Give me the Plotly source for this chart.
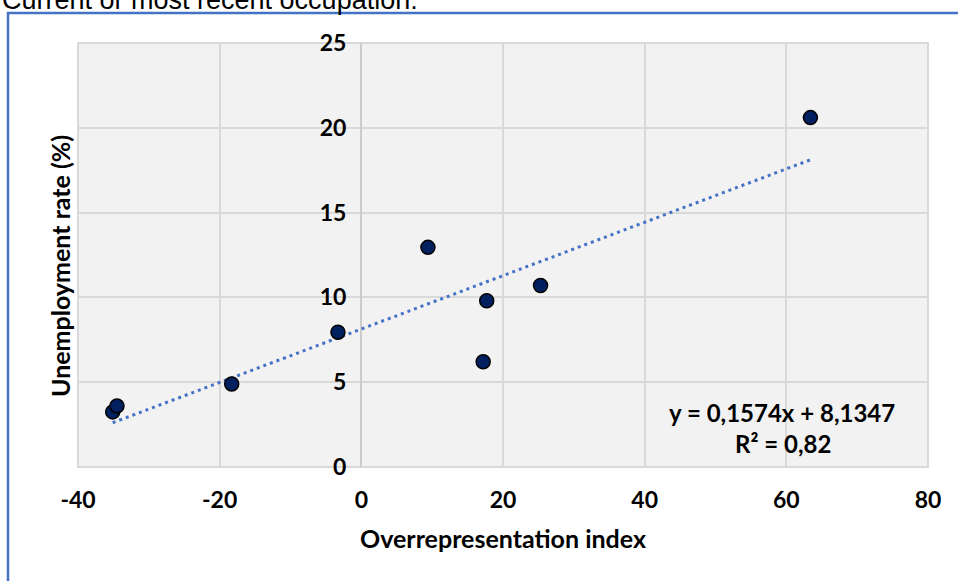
import plotly.graph_objects as go

# Data
overrep_index = [-35.1, -34.5, -18.3, -3.3, 9.4, 17.2, 17.7, 25.3, 63.4]
unemp_rate = [3.25, 3.6, 4.9, 7.95, 12.95, 6.2, 9.8, 10.7, 20.6]

trend_slope = 0.1574
trend_intercept = 8.1347
r_squared = 0.82

x_ticks = [-40, -20, 0, 20, 40, 60, 80]
y_ticks = [0, 5, 10, 15, 20, 25]

W, H = 958, 581
L, R, T, B = 78, 30, 43, 114
pw, ph = W - L - R, H - T - B

def px_x(p):
    return (p - L) / pw

def px_y(p):
    return (H - B - p) / ph

tick_font = dict(family="Lato, Liberation Sans, sans-serif", size=23, color="#000000", weight="bold")
title_font = dict(family="Lato, Liberation Sans, sans-serif", size=25, color="#000000", weight="bold")
note_font = dict(family="Lato, Liberation Sans, sans-serif", size=24, color="#000000", weight="bold")

x_min, x_max = min(overrep_index), max(overrep_index)
trend_x = [x_min, x_max]
trend_y = [trend_slope * v + trend_intercept for v in trend_x]

fig = go.Figure()
fig.add_trace(go.Scatter(
    x=trend_x, y=trend_y, mode="lines",
    line=dict(color="#4472c4", width=3, dash="3px,4px"),
    showlegend=False, hoverinfo="skip"))
fig.add_trace(go.Scatter(
    x=overrep_index, y=unemp_rate, mode="markers",
    marker=dict(size=14, color="#002060", line=dict(color="#000000", width=1.5)),
    showlegend=False))

fmt = lambda v: f"{v:.4f}".replace(".", ",")
eq_text = f"y = {fmt(trend_slope)}x + {fmt(trend_intercept)}"
r2_text = f"R² = {r_squared:.2f}".replace(".", ",")

fig.update_layout(
    width=W, height=H,
    margin=dict(l=L, r=R, t=T, b=B, pad=0),
    paper_bgcolor="#ffffff",
    plot_bgcolor="#f2f2f2",
    xaxis=dict(
        range=[-40, 80], tickvals=x_ticks, ticktext=[str(v) for v in x_ticks],
        showgrid=True, gridcolor="#d9d9d9", gridwidth=2,
        zeroline=True, zerolinecolor="#cccccc", zerolinewidth=2,
        showline=False, ticks="", tickfont=tick_font, ticklabelstandoff=17,
        title=dict(text="Overrepresentation index", font=title_font, standoff=18),
        fixedrange=True),
    yaxis=dict(
        range=[0, 25], tickvals=y_ticks, ticktext=[str(v) for v in y_ticks],
        anchor="free", position=(0 - (-40)) / 120, side="left",
        showgrid=True, gridcolor="#d9d9d9", gridwidth=2,
        zeroline=False, showline=False, ticks="",
        tickfont=tick_font, ticklabelstandoff=15, fixedrange=True),
    shapes=[
        dict(type="rect", xref="paper", yref="paper", x0=0, x1=1, y0=0, y1=1,
             line=dict(color="#d9d9d9", width=2), layer="below"),
        dict(type="rect", xref="paper", yref="paper",
             x0=px_x(8), x1=px_x(W + 20), y0=px_y(13), y1=px_y(H + 20),
             line=dict(color="#4472c4", width=2.5)),
    ],
    annotations=[
        dict(text="Unemployment rate (%)", xref="paper", yref="paper",
             x=px_x(60), y=px_y(266), textangle=-90, showarrow=False,
             xanchor="center", yanchor="middle", font=title_font),
        dict(text=eq_text, xref="paper", yref="paper",
             x=px_x(782), y=px_y(412), showarrow=False,
             xanchor="center", yanchor="middle", font=note_font),
        dict(text=r2_text, xref="paper", yref="paper",
             x=px_x(783), y=px_y(443), showarrow=False,
             xanchor="center", yanchor="middle", font=note_font),
        dict(text="Current or most recent occupation:", xref="paper", yref="paper",
             x=px_x(0), y=px_y(0), showarrow=False,
             xanchor="left", yanchor="middle",
             font=dict(family="Liberation Sans, Arial, sans-serif", size=27, color="#000000")),
    ],
)

fig.write_html("out.html", config={"displayModeBar": False},
               post_script="document.body.style.margin='0';document.body.style.overflow='hidden';")
